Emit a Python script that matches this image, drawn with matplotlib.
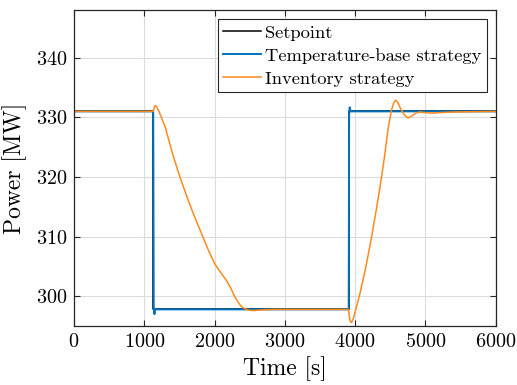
import numpy as np
import matplotlib.pyplot as plt

# reference power demand
t_set = [0, 1130, 1130, 3912, 3912, 6000]
p_set = [331, 331, 297.8, 297.8, 331, 331]

# temperature-based control response
t_temp = [0, 1128, 1135, 1145, 1155, 1170, 3908, 3914, 3922, 3935, 3950, 6000]
p_temp = [331, 331, 298.0, 297.0, 297.9, 297.8, 297.8, 330.5, 331.7, 331.0, 331.0, 331.0]

# inventory control response
t_inv = [0, 1130, 1140, 1155, 1175, 1210, 1300, 1400, 1507, 1625, 1720, 1815,
         1910, 2000, 2080, 2166, 2230, 2284, 2335, 2379, 2430, 2474, 2550, 2650,
         2800, 3000, 3905, 3915, 3930, 3948, 3975, 4000, 4065, 4150, 4231, 4300,
         4373, 4420, 4468, 4516, 4550, 4577, 4610, 4648, 4700, 4752, 4800, 4860,
         4918, 5000, 5100, 5200, 5400, 6000]
p_inv = [331, 331, 331.6, 332.0, 331.8, 331.0, 328.3, 324.0, 320.0, 316.1, 313.2, 310.5,
         307.8, 305.5, 304.1, 302.7, 301.4, 300.0, 299.0, 298.3, 297.9, 297.7, 297.6, 297.7,
         297.8, 297.8, 297.8, 296.8, 295.8, 295.6, 296.3, 297.4, 300.3, 304.8, 309.8, 314.5,
         319.8, 323.7, 328.1, 331.2, 332.5, 332.9, 332.4, 331.4, 330.4, 329.9, 330.2, 330.7,
         330.9, 330.8, 330.7, 330.8, 330.9, 331]

plt.rcParams['font.family'] = 'cmr10'
plt.rcParams['mathtext.fontset'] = 'cm'
plt.rcParams['axes.formatter.use_mathtext'] = True

fig = plt.figure(figsize=(5.17, 3.85), dpi=100)
ax = fig.add_axes([0.143, 0.153, 0.816, 0.821])

ax.plot(t_set, p_set, color='black', lw=1.1, label='Setpoint')
ax.plot(t_temp, p_temp, color='#0072BD', lw=1.4, label='Temperature-base strategy')
ax.plot(t_inv, p_inv, color='#FF8A1C', lw=1.1, label='Inventory strategy')

ax.set_xlim(0, 6000)
ax.set_ylim(295, 348)
ax.set_xticks(np.arange(0, 6001, 1000))
ax.set_yticks(np.arange(300, 341, 10))
ax.grid(True, color='#dcdcdc', lw=0.8)
ax.tick_params(direction='in', top=True, right=True, labelsize=14.5,
               color='#262626', length=4, pad=5)
for sp in ax.spines.values():
    sp.set_color('#262626')
    sp.set_linewidth(0.9)

ax.set_xlabel('Time [s]', fontsize=17, labelpad=4)
ax.set_ylabel('Power [MW]', fontsize=17, labelpad=6)

leg = ax.legend(loc='upper right', fontsize=13.3, fancybox=False, framealpha=1,
                edgecolor='#262626', borderaxespad=0.5, handlelength=2.05,
                handletextpad=0.2, labelspacing=0.38, borderpad=0.3)
leg.get_frame().set_linewidth(0.8)

fig.savefig('out.png', dpi=100)
